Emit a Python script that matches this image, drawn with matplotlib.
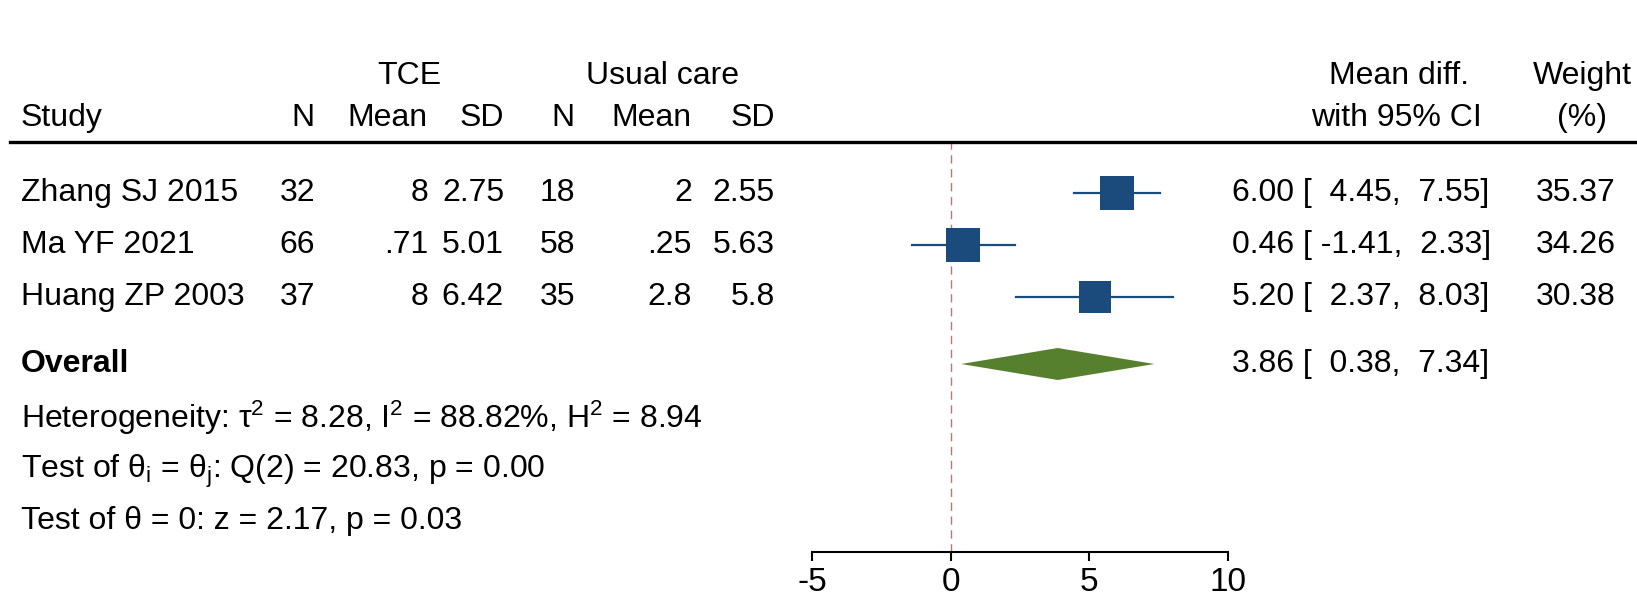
import matplotlib
matplotlib.use("Agg")
import matplotlib.pyplot as plt
import matplotlib.transforms as mtransforms

plt.rcParams['font.family'] = ['Liberation Sans', 'DejaVu Sans']
plt.rcParams['mathtext.fontset'] = 'custom'
plt.rcParams['mathtext.rm'] = 'Liberation Sans'
plt.rcParams['mathtext.it'] = 'Liberation Sans'
plt.rcParams['axes.unicode_minus'] = False

fontsize = 23

# data
studies = ["Zhang SJ 2015", "Ma YF 2021", "Huang ZP 2003"]
tce_n = ["32", "66", "37"]
tce_mean = ["8", ".71", "8"]
tce_sd = ["2.75", "5.01", "6.42"]
uc_n = ["18", "58", "35"]
uc_mean = ["2", ".25", "2.8"]
uc_sd = ["2.55", "5.63", "5.8"]
effect = [6.00, 0.46, 5.20]
ci_low = [4.45, -1.41, 2.37]
ci_high = [7.55, 2.33, 8.03]
weight = [35.37, 34.26, 30.38]
overall = (3.86, 0.38, 7.34)
xticks = [-5, 0, 5, 10]

W, H = 1637, 595
fig = plt.figure(figsize=(W / 100, H / 100), dpi=100)

# forest axes: -5 at x=812px, 10 at x=1228px; header line y=142px, axis y=552px
ax_left, ax_right = 812, 1228
ax_top, ax_bot = 142, 552
ax = fig.add_axes([ax_left / W, 1 - ax_bot / H, (ax_right - ax_left) / W, (ax_bot - ax_top) / H])
row_px = 52.0
row1_px = 193
ax.set_xlim(-5, 10)
ax.set_ylim(-(ax_bot - row1_px) / row_px, (row1_px - ax_top) / row_px)


def ypx(p):
    return -(p - row1_px) / row_px


rows = [0, -1, -2]
y_overall = ypx(364)

navy = '#1b4a7c'
green = '#56802e'

ax.axvline(0, color='#b87878', lw=1.0, ls=(0, (6, 4)), zorder=1)
for y, e, lo, hi, w in zip(rows, effect, ci_low, ci_high, weight):
    ax.plot([lo, hi], [y, y], color=navy, lw=1.6, zorder=2)
    ax.scatter([e], [y], marker='s', s=w * 17.8, color=navy, zorder=3, linewidths=0)

es, lo, hi = overall
dh = 16 / row_px
ax.fill([lo, es, hi, es], [y_overall, y_overall + dh, y_overall, y_overall - dh],
        color=green, lw=0, zorder=3)

for s in ['top', 'right', 'left']:
    ax.spines[s].set_visible(False)
ax.spines['bottom'].set_linewidth(1.5)
ax.set_yticks([])
ax.set_xticks(xticks)
ax.set_xticklabels([str(t) for t in xticks], fontsize=24)
ax.tick_params(axis='x', length=6.5, width=1.5, pad=4)
ax.spines['bottom'].set_bounds(-5, 10)

# header line across the figure
fig.add_artist(plt.Line2D([10 / W, 1.0], [1 - ax_top / H, 1 - ax_top / H],
                          transform=fig.transFigure, color='black', lw=2.4))

tr = mtransforms.blended_transform_factory(fig.transFigure, ax.transData)


def txt(xpx, y, s, ha='left', **kw):
    ax.text(xpx / W, y, s, transform=tr, ha=ha, va='center', fontsize=fontsize,
            clip_on=False, **kw)


# headers
y_h1 = ypx(76)
y_h2 = ypx(118)
txt(409, y_h1, "TCE", ha='center')
txt(662, y_h1, "Usual care", ha='center')
txt(1399, y_h1, "Mean diff.", ha='center')
txt(1582, y_h1, "Weight", ha='center')
txt(21, y_h2, "Study")
txt(315, y_h2, "N", ha='right')
txt(428, y_h2, "Mean", ha='right')
txt(504, y_h2, "SD", ha='right')
txt(575, y_h2, "N", ha='right')
txt(692, y_h2, "Mean", ha='right')
txt(775, y_h2, "SD", ha='right')
txt(1396, y_h2, "with 95% CI", ha='center')
txt(1582, y_h2, "(%)", ha='center')

cols = [(315, tce_n), (428, tce_mean), (504, tce_sd),
        (575, uc_n), (692, uc_mean), (775, uc_sd)]
for i, y in enumerate(rows):
    txt(21, y, studies[i])
    for xr, vals in cols:
        txt(xr, y, vals[i], ha='right')
    txt(1232, y, f"{effect[i]:.2f} [{ci_low[i]:6.2f},  {ci_high[i]:.2f}]")
    txt(1616, y, f"{weight[i]:.2f}", ha='right')

txt(21, y_overall, "Overall", fontweight='bold')
txt(1232, y_overall, f"{es:.2f} [{lo:6.2f},  {hi:.2f}]")

txt(21, ypx(418), "Heterogeneity: τ$^2$ = 8.28, I$^2$ = 88.82%, H$^2$ = 8.94")
txt(21, ypx(471), "Test of θ$_\\mathrm{i}$ = θ$_\\mathrm{j}$: Q(2) = 20.83, p = 0.00")
txt(21, ypx(521), "Test of θ = 0: z = 2.17, p = 0.03")

fig.savefig("out.png", dpi=100, facecolor='white')
